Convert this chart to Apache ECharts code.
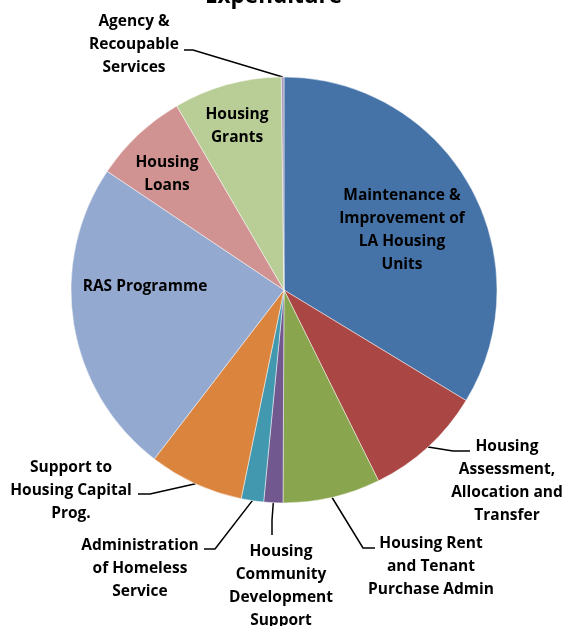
<!DOCTYPE html>
<html>
<head>
<meta charset="utf-8">
<script src="https://cdn.jsdelivr.net/npm/echarts@6/dist/echarts.min.js"></script>
<style>
  html, body { margin: 0; padding: 0; background: #ffffff; }
  #chart { width: 564px; height: 626px; }
</style>
</head>
<body>
<div id="chart"></div>
<script>
// Housing expenditure by programme (share of total, %)
const categories = [
  'Maintenance & Improvement of LA Housing Units',
  'Housing Assessment, Allocation and Transfer',
  'Housing Rent and Tenant Purchase Admin',
  'Housing Community Development Support',
  'Administration of Homeless Service',
  'Support to Housing Capital Prog.',
  'RAS Programme',
  'Housing Loans',
  'Housing Grants',
  'Agency & Recoupable Services'
];
const shares = [33.7, 9.0, 7.4, 1.45, 1.7, 7.2, 24.0, 7.2, 8.2, 0.2];
const labelTexts = [
  'Maintenance &\nImprovement of\nLA Housing\nUnits',
  'Housing\nAssessment,\nAllocation and\nTransfer',
  'Housing Rent\nand Tenant\nPurchase Admin',
  'Housing\nCommunity\nDevelopment\nSupport',
  'Administration\nof Homeless\nService',
  'Support to\nHousing Capital\nProg.',
  'RAS Programme',
  'Housing\nLoans',
  'Housing\nGrants',
  'Agency &\nRecoupable\nServices'
];
const sliceColors = [
  '#4572A7', '#AA4643', '#89A54E', '#71588F', '#4198AF',
  '#DB843D', '#93A9CF', '#D19392', '#B9CD96', '#A99BBD'
];
const insideNames = ['Maintenance & Improvement of LA Housing Units', 'RAS Programme', 'Housing Loans', 'Housing Grants'];

// pie geometry
const CX = 284, CY = 290, R = 213;

// where each label block sits, and the bend/end of its leader line
const labelSpots = [
  { x: 402, y: 230 },
  { x: 507, y: 481, elbow: [453, 451], end: [470, 451] },
  { x: 431, y: 567, elbow: [363, 548], end: [375, 548] },
  { x: 281, y: 586, elbow: [272, 520], end: [272, 535] },
  { x: 140, y: 569, elbow: [215, 549], end: [204, 549] },
  { x: 71,  y: 491, elbow: [150, 494], end: [138, 494] },
  { x: 145, y: 287 },
  { x: 167, y: 174 },
  { x: 237, y: 126 },
  { x: 134, y: 45,  elbow: [193, 50], end: [184, 50] }
];

const total = shares.reduce((a, b) => a + b, 0);
function edgePoint(i) {
  let cum = 0;
  for (let k = 0; k < i; k++) cum += shares[k];
  const a = 2 * Math.PI * (cum + shares[i] / 2) / total;
  return [CX + R * Math.sin(a), CY - R * Math.cos(a)];
}

const data = categories.map((name, i) => ({
  name: name,
  value: shares[i],
  itemStyle: { color: sliceColors[i] },
  label: { position: insideNames.includes(name) ? 'inside' : 'outside' },
  labelLine: { show: !insideNames.includes(name) }
}));

const chart = echarts.init(document.getElementById('chart'), null, { renderer: 'canvas' });
chart.setOption({
  backgroundColor: '#ffffff',
  animation: false,
  title: {
    text: 'Expenditure',
    left: 200,
    top: -20,
    textStyle: { fontFamily: 'Open Sans', fontWeight: 'bold', fontSize: 22.5, color: '#000000' }
  },
  series: [{
    type: 'pie',
    center: [CX, CY],
    radius: R,
    startAngle: 90,
    clockwise: true,
    avoidLabelOverlap: false,
    itemStyle: { borderColor: 'rgba(255,255,255,0.8)', borderWidth: 0.6 },
    label: {
      show: true,
      formatter: p => labelTexts[p.dataIndex],
      fontFamily: 'Open Sans',
      fontWeight: 'bold',
      fontSize: 15.5,
      lineHeight: 23,
      color: '#000000',
      align: 'center'
    },
    labelLine: {
      lineStyle: { color: '#000000', width: 1.5 }
    },
    labelLayout: function (p) {
      const i = p.dataIndex;
      const s = labelSpots[i];
      const out = { x: s.x, y: s.y, align: 'center', verticalAlign: 'middle', hideOverlap: false, moveOverlap: null };
      if (s.elbow) {
        const start = (p.labelLinePoints && p.labelLinePoints[0]) ? p.labelLinePoints[0] : edgePoint(i);
        out.labelLinePoints = [start, s.elbow, s.end];
      }
      return out;
    },
    data: data
  }]
});
</script>
</body>
</html>
